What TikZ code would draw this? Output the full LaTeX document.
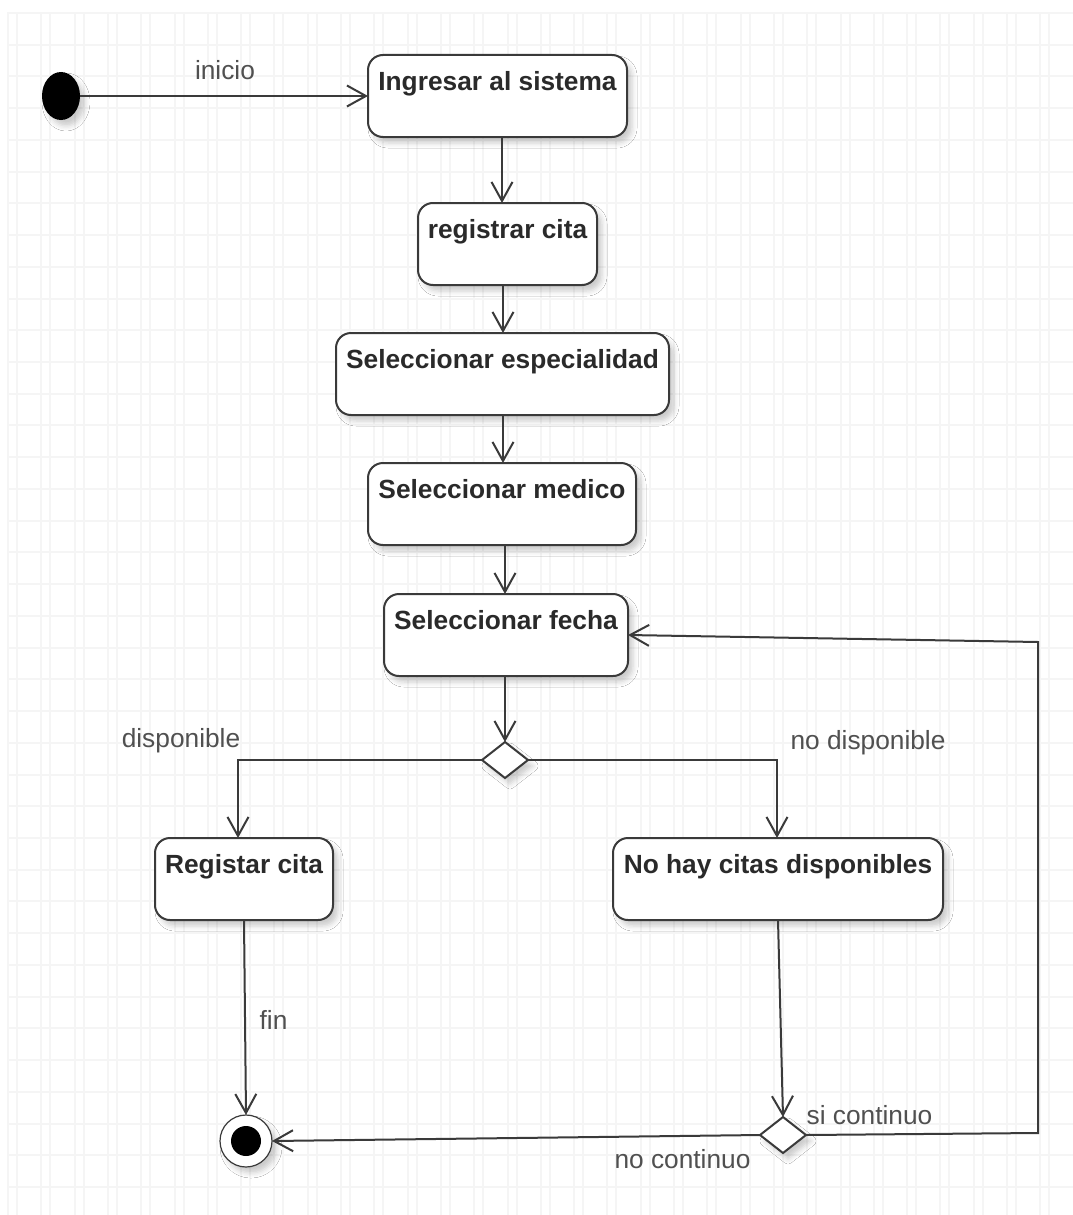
\documentclass[tikz,border=0pt]{standalone}
\usepackage{fontspec}
\setmainfont{Liberation Sans}
\usetikzlibrary{arrows.meta,shapes.geometric,shadows.blur}
\definecolor{edgecol}{HTML}{3A3A3A}
\definecolor{txtcol}{HTML}{2A2A2A}
\definecolor{lblcol}{HTML}{505050}
\definecolor{gridcol}{HTML}{F5F5F5}

\begin{document}
\begin{tikzpicture}[x=1pt,y=-1pt,
  every node/.style={inner sep=0pt, outer sep=0pt},
  softshadow/.style={blur shadow={shadow xshift=5pt, shadow yshift=-6pt,
      shadow blur radius=5pt, shadow opacity=20}},
  activity/.style={draw=edgecol, line width=2pt, rounded corners=15pt,
      fill=white, text=txtcol, font=\fontsize{26.3}{30}\selectfont\bfseries,
      text height=35pt, text depth=47pt, align=center, softshadow},
  decision/.style={diamond, draw=edgecol, line width=2pt, fill=white,
      minimum width=46pt, minimum height=36pt, softshadow},
  lbl/.style={text=lblcol, font=\fontsize{26.3}{30}\selectfont, anchor=base},
  flow/.style={draw=edgecol, line width=2pt,
      -{Straight Barb[length=19pt, width=21pt, line width=2pt]}},
  gridline/.style={draw=gridcol, line width=2pt}
]
% page and background grid
\useasboundingbox (0,0) rectangle (1073,1215);
\fill[white] (0,0) rectangle (1073,1215);
\foreach \i in {0,...,31}{
  \draw[gridline] ({8+33.3*\i},13) -- ({8+33.3*\i},1215);
  \draw[gridline] ({17+33.3*\i},13) -- ({17+33.3*\i},1215);
}
\foreach \j in {0,...,37}{
  \draw[gridline] (7,{13+31.73*\j}) -- (1073,{13+31.73*\j});
}

% initial and final states
\node[ellipse, fill=black, minimum width=38pt, minimum height=48pt, softshadow] (start) at (61,96) {};
\node[circle, draw=edgecol, line width=1.2pt, fill=white, minimum size=52pt, softshadow] (end) at (246,1141) {};
\node[circle, fill=black, minimum size=30pt] (enddot) at (end) {};

% activities
\node[activity, minimum width=259pt, anchor=north] (n1) at (497.5,55) {Ingresar al sistema};
\node[activity, minimum width=179pt, anchor=north] (n2) at (507.5,203) {registrar cita};
\node[activity, minimum width=333pt, anchor=north] (n3) at (502.5,333) {Seleccionar especialidad};
\node[activity, minimum width=268pt, anchor=north] (n4) at (502,463) {Seleccionar medico};
\node[activity, minimum width=244pt, anchor=north] (n5) at (506,594) {Seleccionar fecha};
\node[activity, minimum width=178pt, anchor=north] (reg) at (244,838) {Registar cita};
\node[activity, minimum width=330pt, anchor=north] (nohay) at (778,838) {No hay citas disponibles};

% decisions
\node[decision] (d1) at (505,760) {};
\node[decision] (d2) at (783,1135) {};

% loop-back corners
\coordinate (loopA) at (1038,1133);
\coordinate (loopB) at (1038,642);

% transitions
\draw[flow] (start.east) -- (n1.west);
\draw[flow] ([xshift=4.5pt]n1.south) -- ([xshift=-5.5pt]n2.north);
\draw[flow] ([xshift=-4.5pt]n2.south) -- ([xshift=0.5pt]n3.north);
\draw[flow] ([xshift=0.5pt]n3.south) -- ([xshift=1pt]n4.north);
\draw[flow] ([xshift=3pt]n4.south) -- ([xshift=-1pt]n5.north);
\draw[flow] ([xshift=-1pt]n5.south) -- (d1.north);
\draw[flow] (d1.west) -| ([xshift=-6pt]reg.north);
\draw[flow] (d1.east) -| ([xshift=-1pt]nohay.north);
\draw[flow] (reg.south) -- (end.north);
\draw[flow] (nohay.south) -- (d2.north);
\draw[flow] (d2.west) -- (end.east);
\draw[flow] (d2.east) -- (loopA) -- (loopB) -- (n5.east);

% transition labels
\node[lbl] (tInicio) at (225,79) {inicio};
\node[lbl] (tDisp) at (181,747) {disponible};
\node[lbl] (tNoDisp) at (868,749) {no disponible};
\node[lbl] (tFin) at (273.5,1029) {fin};
\node[lbl] (tSi) at (869.5,1124) {si continuo};
\node[lbl] (tNo) at (682.5,1168) {no continuo};
\end{tikzpicture}
\end{document}
